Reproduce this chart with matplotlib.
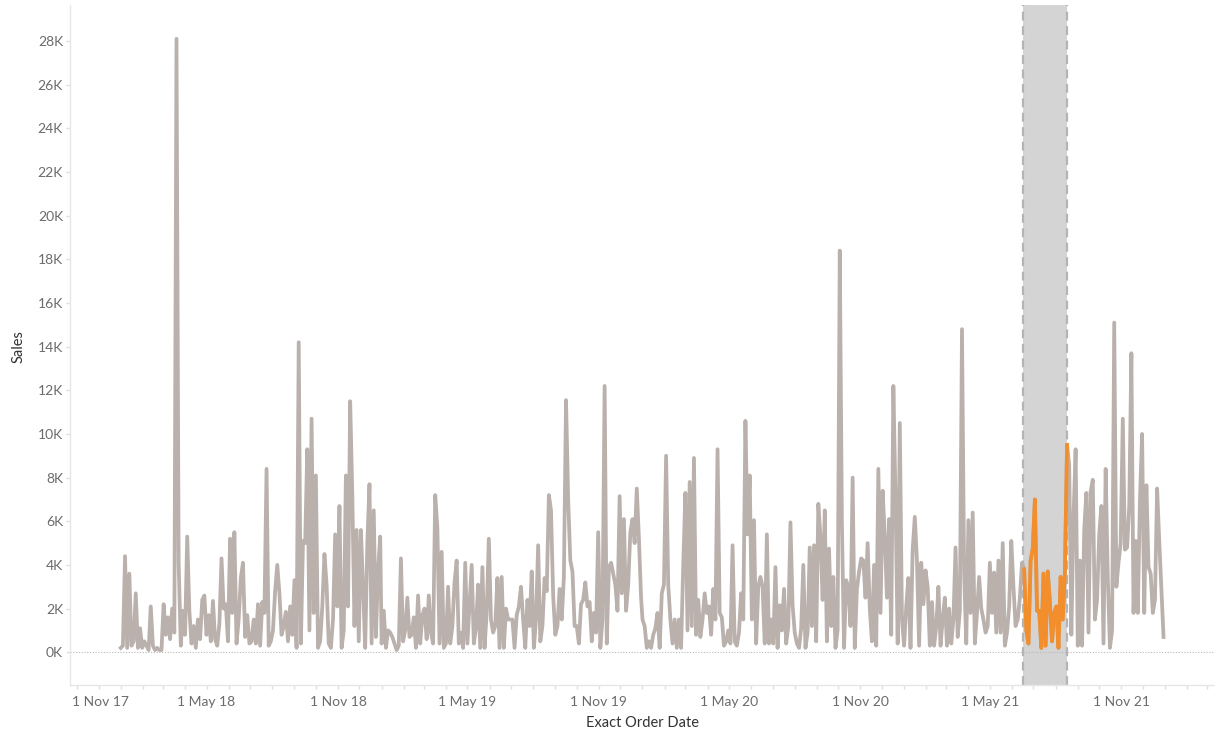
import pandas as pd
import matplotlib
matplotlib.use('Agg')
import matplotlib.pyplot as plt
import matplotlib.transforms as mtransforms

# sales in thousands, one reading every 3 days from 1 Jan of each year
sales_2018 = [
    0.2, 0.3, 4.4, 0.2, 3.6, 0.3, 0.5, 2.7, 0.2, 1.1,
    0.2, 0.5, 0.3, 0.1, 2.1, 0.3, 0.1, 0.2, 0.1, 0.1,
    2.2, 0.8, 1.6, 0.6, 2.0, 0.9, 28.1, 4.1, 0.3, 1.9,
    0.8, 5.3, 1.9, 0.4, 1.2, 0.2, 1.5, 0.6, 2.4, 2.6,
    0.8, 1.7, 0.5, 2.35, 0.6, 0.3, 1.3, 4.3, 2.0, 2.2,
    0.5, 5.2, 1.8, 5.5, 0.4, 1.5, 3.4, 4.1, 0.7, 1.7,
    0.4, 0.5, 1.5, 0.4, 2.2, 0.3, 2.3, 1.8, 8.4, 0.3,
    0.5, 1.0, 2.8, 4.0, 2.7, 0.8, 1.2, 1.85, 0.5, 2.1,
    0.8, 3.3, 0.2, 14.2, 0.4, 5.1, 5.0, 9.3, 1.0, 10.7,
    1.8, 8.1, 0.2, 0.5, 2.1, 4.5, 3.1, 0.4, 0.2, 1.5,
    5.4, 2.1, 6.7, 0.2, 1.0, 8.1, 2.1, 11.5, 7.2, 1.2,
    5.6, 0.5, 5.6, 3.0, 0.2, 5.0, 7.7, 0.4, 6.5, 0.7,
    3.75, 5.3,
]
sales_2019 = [
    0.4, 1.9, 0.2, 1.0, 0.9, 0.7, 0.4, 0.1, 0.3, 4.3,
    0.5, 1.0, 2.5, 0.7, 0.8, 1.6, 0.2, 2.6, 0.4, 1.7,
    2.0, 0.6, 2.6, 0.9, 0.4, 7.2, 5.7, 0.4, 4.6, 0.2,
    0.4, 3.0, 0.4, 1.2, 3.2, 4.2, 0.4, 0.9, 0.2, 4.1,
    0.4, 2.2, 4.0, 0.4, 1.1, 3.1, 0.2, 3.9, 0.2, 1.8,
    5.2, 1.5, 0.9, 1.2, 3.4, 0.2, 3.45, 0.2, 2.0, 1.5,
    1.5, 1.5, 0.2, 1.7, 2.1, 3.0, 1.5, 0.2, 2.4, 1.2,
    3.7, 0.2, 1.5, 4.9, 0.5, 1.2, 3.4, 2.8, 7.2, 6.5,
    2.6, 0.8, 1.2, 2.9, 1.5, 3.45, 11.55, 7.0, 4.2, 3.7,
    1.2, 1.2, 0.4, 2.2, 2.4, 3.2, 2.1, 2.3, 0.5, 1.8,
    0.9, 5.5, 0.2, 1.5, 12.2, 0.4, 3.9, 4.1, 3.6, 3.1,
    1.9, 7.15, 2.7, 6.1, 1.9, 3.1, 5.5, 6.1, 5.0, 7.5,
    5.2, 2.5,
]
sales_2020 = [
    1.5, 1.2, 0.2, 0.5, 0.2, 0.8, 1.1, 1.8, 0.2, 2.7,
    3.1, 9.0, 3.1, 1.5, 0.4, 1.5, 0.2, 1.5, 0.2, 4.0,
    7.3, 1.0, 7.8, 1.2, 8.9, 0.8, 2.4, 0.7, 1.5, 2.7,
    1.8, 2.1, 0.8, 2.9, 1.5, 9.3, 1.8, 1.6, 0.3, 0.5,
    1.0, 0.4, 4.9, 0.5, 0.3, 0.9, 2.7, 1.5, 10.6, 5.4,
    8.1, 1.5, 6.05, 0.4, 3.0, 3.45, 3.0, 0.4, 5.4, 0.4,
    1.5, 0.4, 3.9, 0.2, 2.15, 1.0, 2.9, 0.4, 1.2, 5.95,
    2.15, 0.9, 0.4, 0.2, 1.1, 4.0, 0.2, 0.9, 4.8, 1.2,
    4.9, 0.5, 6.8, 5.3, 2.4, 6.5, 0.5, 4.75, 1.2, 3.45,
    0.2, 1.0, 18.4, 5.9, 0.2, 3.3, 3.0, 1.2, 8.0, 0.2,
    2.9, 3.7, 4.3, 4.2, 2.5, 5.0, 2.0, 0.5, 4.0, 0.3,
    8.4, 1.8, 7.4, 5.3, 2.5, 6.1, 0.8, 12.2, 7.0, 0.4,
    10.5, 1.5,
]
sales_2021 = [
    0.3, 2.1, 3.4, 0.2, 4.7, 6.2, 4.2, 0.3, 4.1, 2.2,
    3.75, 3.0, 0.3, 2.3, 0.3, 1.2, 3.0, 0.3, 1.5, 2.5,
    0.3, 2.0, 0.4, 1.5, 4.8, 0.7, 1.9, 14.8, 3.6, 0.4,
    6.05, 1.8, 6.4, 0.4, 1.8, 3.45, 2.0, 1.5, 0.9, 1.2,
    4.1, 1.8, 3.65, 0.9, 4.2, 0.9, 5.0, 0.3, 0.9, 2.1,
    5.1, 3.0, 1.2, 1.5, 2.5, 4.1, 3.8, 1.0, 0.4, 4.2,
    4.75, 7.0, 1.9, 1.9, 0.2, 3.6, 0.3, 3.7, 2.3, 0.5,
    1.8, 2.1, 0.2, 3.45, 1.5, 3.7, 9.5, 8.6, 0.8, 6.15,
    9.3, 0.3, 4.2, 0.3, 5.6, 7.3, 0.9, 7.35, 7.9, 1.5,
    2.4, 5.4, 6.7, 0.4, 8.4, 3.45, 0.2, 1.0, 15.1, 3.0,
    4.1, 5.0, 10.7, 4.7, 4.8, 6.7, 13.7, 1.8, 5.1, 1.8,
    7.0, 10.0, 1.8, 7.65, 3.9, 3.6, 1.8, 2.4, 7.5, 5.1,
    2.9, 0.7,
]
years = [2018, 2019, 2020, 2021]

band_start = pd.Timestamp('2021-06-16')
band_end = pd.Timestamp('2021-08-17')

label_dates = ['2017-11-01', '2018-05-01', '2018-11-01', '2019-05-01', '2019-11-01',
               '2020-05-01', '2020-11-01', '2021-05-01', '2021-11-01']
label_text = ['1 Nov 17', '1 May 18', '1 Nov 18', '1 May 19', '1 Nov 19',
              '1 May 20', '1 Nov 20', '1 May 21', '1 Nov 21']
y_ticks = list(range(0, 29, 2))

# build one series over the four years
parts = []
for year, vals in zip(years, [sales_2018, sales_2019, sales_2020, sales_2021]):
    idx = pd.date_range(f'{year}-01-01', periods=len(vals), freq='3D')
    parts.append(pd.Series(vals, index=idx))
sales = pd.concat(parts)
hl = sales[(sales.index >= band_start) & (sales.index <= band_end)]

plt.rcParams['font.family'] = ['Lato', 'DejaVu Sans']

fig = plt.figure(figsize=(12.15, 7.33), dpi=100)
ax = fig.add_axes([70 / 1215, 48 / 733, 1 - 70 / 1215, 680 / 733])

# highlighted period
ax.axvspan(band_start, band_end, color='#d4d4d4', lw=0, zorder=0)
for d in [band_start, band_end]:
    ax.axvline(d, color='#b4b4b4', lw=1.6, ls=(0, (4, 2.5)), zorder=1)

ax.axhline(0, color='#b8b8b8', lw=0.8, ls=(0, (1, 1.5)), zorder=1)

ax.plot(sales.index, sales.values, color='#bab0ac', lw=2.7, zorder=2)
ax.plot(hl.index, hl.values, color='#f28e2b', lw=2.7, zorder=3)

ax.set_xlim(pd.Timestamp('2017-10-22'), pd.Timestamp('2022-03-12'))
ax.set_ylim(-1.5, 29.65)

ax.set_yticks(y_ticks)
ax.set_yticklabels([f'{v}K' for v in y_ticks])
ax.set_xticks(pd.to_datetime(label_dates))
ax.set_xticklabels(label_text)
ax.set_xticks(pd.date_range('2017-11-01', '2022-03-01', freq='MS'), minor=True)

for s in ['top', 'right']:
    ax.spines[s].set_visible(False)
for s in ['left', 'bottom']:
    ax.spines[s].set_color('#e6e6e6')
    ax.spines[s].set_linewidth(1)

ax.tick_params(axis='both', which='both', color='#e0e0e0', length=3, width=1,
               labelcolor='#6b6b6b', labelsize=10)
ax.tick_params(axis='x', which='both', pad=5)
ax.tick_params(axis='y', pad=2)

first = ax.get_xticklabels()[0]
first.set_horizontalalignment('left')
first.set_transform(first.get_transform() +
                    mtransforms.ScaledTranslation(-5 / 100, 0, fig.dpi_scale_trans))

fig.text(19 / 1215, 1 - 347 / 733, 'Sales', rotation=90, ha='center', va='center',
         fontsize=10.5, color='#333333')
fig.text(643 / 1215, 1 - 730 / 733, 'Exact Order Date', ha='center', va='bottom',
         fontsize=10.5, color='#333333')

fig.savefig('out.png', dpi=100)
